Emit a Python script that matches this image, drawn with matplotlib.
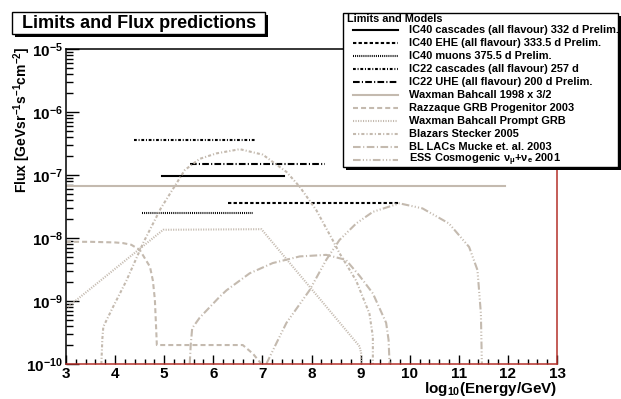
import matplotlib
matplotlib.use("Agg")
import matplotlib.pyplot as plt
from matplotlib.lines import Line2D
from matplotlib.patches import Rectangle
from matplotlib.ticker import LogLocator, MultipleLocator, NullFormatter

plt.rcParams["font.family"] = ["Liberation Sans", "DejaVu Sans"]
plt.rcParams["font.weight"] = "bold"
plt.rcParams["mathtext.default"] = "regular"
plt.rcParams["lines.scale_dashes"] = False

# upper limits: (log10 E start, log10 E end, E^2 flux)
ic40_cascades = (4.96, 7.45, 9.5e-8)
ic40_ehe = (6.30, 9.79, 3.6e-8)
ic40_muons = (4.54, 6.80, 2.5e-8)
ic22_cascades = (4.38, 6.84, 3.6e-7)
ic22_uhe = (5.53, 8.28, 1.5e-7)
waxman_bahcall = (3.0, 11.94, 6.75e-8)

# model predictions
razzaque_x = [3.0, 3.5, 4.0, 4.16, 4.33, 4.50, 4.71, 4.77, 4.81, 4.84, 4.85, 6.60, 6.81, 6.98]
razzaque_y = [8.7e-9, 8.7e-9, 8.5e-9, 8.3e-9, 7.8e-9, 6.5e-9, 3.5e-9, 2.1e-9, 1.05e-9,
              3.1e-10, 2.0e-10, 2.0e-10, 1.45e-10, 1.0e-10]

wb_prompt_x = [3.0, 4.98, 6.98, 8.98, 9.01, 9.01]
wb_prompt_y = [7.6e-10, 1.35e-8, 1.38e-8, 1.9e-10, 1.5e-10, 1.0e-10]

stecker_x = [3.72, 3.74, 3.76, 3.96, 4.23, 4.57, 4.93, 5.42, 5.72, 6.06, 6.54, 7.01, 7.49,
             7.76, 8.10, 8.43, 8.57, 8.91, 9.18, 9.25, 9.25]
stecker_y = [1.0e-10, 2.5e-10, 3.9e-10, 8.1e-10, 2.1e-9, 8.3e-9, 2.95e-8, 1.2e-7, 1.8e-7,
             2.2e-7, 2.57e-7, 2.1e-7, 1.12e-7, 6.5e-8, 2.75e-8, 9.3e-9, 5.75e-9, 2.1e-9,
             6.3e-10, 2.7e-10, 1.0e-10]

mucke_x = [5.52, 5.54, 5.57, 5.72, 6.13, 6.27, 6.74, 7.21, 7.76, 8.30, 8.70, 8.98, 9.25,
           9.52, 9.57, 9.59]
mucke_y = [1.0e-10, 2.0e-10, 3.7e-10, 5.4e-10, 1.17e-9, 1.48e-9, 2.75e-9, 4.0e-9, 5.1e-9,
           5.4e-9, 4.5e-9, 2.5e-9, 1.32e-9, 4.5e-10, 2.4e-10, 1.0e-10]

ess_x = [7.08, 7.28, 7.49, 7.96, 8.30, 8.57, 8.91, 9.25, 9.79, 10.26, 10.80, 11.21, 11.38,
         11.45, 11.47]
ess_y = [1.0e-10, 2.1e-10, 4.5e-10, 1.48e-9, 4.5e-9, 9.3e-9, 1.7e-8, 2.6e-8, 3.55e-8,
         2.95e-8, 1.7e-8, 7.2e-9, 3.1e-9, 6.3e-10, 1.0e-10]

x_ticks = list(range(3, 14))

W, H = 621, 399
tan = "#c4baaf"
frame_red = "#b4302a"

fig = plt.figure(figsize=(W / 100, H / 100), dpi=100)
ax = fig.add_axes([66 / W, 1 - 364 / H, (557 - 66) / W, (364 - 49) / H])

styles = {
    "solid": "-",
    "dashed": (0, (2.4, 1.6)),
    "dotted": (0, (0.7, 0.8)),
    "dashdot": (0, (2.0, 1.3, 0.7, 1.3)),
    "longdashdot": (0, (4.8, 1.6, 0.8, 1.6)),
    "tdashed": (0, (3.6, 2.2)),
    "tdotted": (0, (0.8, 1.0)),
    "tdashdot": (0, (2.2, 1.5, 0.8, 1.5)),
    "tlongdashdot": (0, (5.5, 1.8, 0.8, 1.8)),
    "tdashdotdot": (0, (5.5, 1.6, 0.8, 1.6, 0.8, 1.6, 0.8, 1.6)),
}

entries = [
    ("IC40 cascades (all flavour) 332 d Prelim.", "black", "solid"),
    ("IC40 EHE (all flavour) 333.5 d Prelim.", "black", "dashed"),
    ("IC40 muons 375.5 d Prelim.", "black", "dotted"),
    ("IC22 cascades (all flavour) 257 d", "black", "dashdot"),
    ("IC22 UHE (all flavour) 200 d Prelim.", "black", "longdashdot"),
    ("Waxman Bahcall 1998 x 3/2", tan, "solid"),
    ("Razzaque GRB Progenitor 2003", tan, "tdashed"),
    ("Waxman Bahcall Prompt GRB", tan, "tdotted"),
    ("Blazars Stecker 2005", tan, "tdashdot"),
    ("BL LACs Mucke et. al. 2003", tan, "tlongdashdot"),
    ("ESS Cosmogenic ν$_{\\mu}$+ν$_{e}$ 2001", tan, "tdashdotdot"),
]

limits = [ic40_cascades, ic40_ehe, ic40_muons, ic22_cascades, ic22_uhe, waxman_bahcall]
for (x0, x1, f), (_, col, st) in zip(limits, entries[:6]):
    ax.plot([x0, x1], [f, f], color=col, ls=styles[st], lw=1.5)

models = [(razzaque_x, razzaque_y), (wb_prompt_x, wb_prompt_y), (stecker_x, stecker_y),
          (mucke_x, mucke_y), (ess_x, ess_y)]
for (mx, my), (_, col, st) in zip(models, entries[6:]):
    ax.plot(mx, my, color=col, ls=styles[st], lw=1.5)

ax.set_yscale("log")
ax.set_xlim(3, 13)
ax.set_ylim(1e-10, 1e-5)
ax.set_xticks(x_ticks)
ax.xaxis.set_minor_locator(MultipleLocator(0.2))
ax.yaxis.set_major_locator(LogLocator(base=10, numticks=10))
ax.yaxis.set_minor_locator(LogLocator(base=10, subs=range(2, 10), numticks=20))
ax.yaxis.set_minor_formatter(NullFormatter())

ax.tick_params(axis="y", which="major", direction="in", length=9.4, width=1.0, labelsize=11, pad=2)
ax.tick_params(axis="y", which="minor", direction="in", length=5.0, width=1.0)
ax.tick_params(axis="x", which="major", direction="in", length=6.5, width=1.0, labelsize=11, pad=2.5)
ax.tick_params(axis="x", which="minor", direction="in", length=3.5, width=1.0)
for lab in ax.get_xticklabels() + ax.get_yticklabels():
    lab.set_fontweight("bold")

ax.spines["left"].set_color("black")
ax.spines["top"].set_color("black")
ax.spines["bottom"].set_color(frame_red)
ax.spines["right"].set_color(frame_red)
for sp in ax.spines.values():
    sp.set_linewidth(1.1)


def fx(px):
    return px / W


def fy(py):
    return 1 - py / H


# axis titles, right/top aligned as in ROOT
fig.text(fx(557), fy(393), "log$_{10}$(Energy/GeV)", fontsize=11, fontweight="bold",
         ha="right", va="baseline")
fig.text(fx(22), fy(47), "Flux [GeVsr$^{-1}$s$^{-1}$cm$^{-2}$]", fontsize=10,
         fontweight="bold", rotation=90, ha="center", va="top")


def box(x0, y0, x1, y1, shadow=3):
    fig.add_artist(Rectangle((fx(x0 + shadow), fy(y1 + shadow)), fx(x1 - x0), (y1 - y0) / H,
                             transform=fig.transFigure, facecolor="black", edgecolor="black",
                             lw=0, zorder=5))
    fig.add_artist(Rectangle((fx(x0), fy(y1)), fx(x1 - x0), (y1 - y0) / H,
                             transform=fig.transFigure, facecolor="white", edgecolor="black",
                             lw=1.0, zorder=6))


# title pad
box(12, 12, 265, 34)
fig.text(fx(22), fy(23.5), "Limits and Flux predictions", fontsize=13, fontweight="bold",
         va="center", ha="left", zorder=7)

# legend
box(343, 13, 618, 167)
fig.text(fx(347), fy(19), "Limits and Models", fontsize=7.8, fontweight="bold",
         va="center", ha="left", zorder=7)
for i, (label, col, st) in enumerate(entries):
    y = 30 + i * 13.0
    fig.add_artist(Line2D([fx(353), fx(398)], [fy(y), fy(y)], color=col, ls=styles[st],
                          lw=1.5, transform=fig.transFigure, zorder=7))
    fig.text(fx(409), fy(y), label, fontsize=7.9, fontweight="bold", va="center", ha="left",
             zorder=7)

fig.savefig("out.png", dpi=100)
